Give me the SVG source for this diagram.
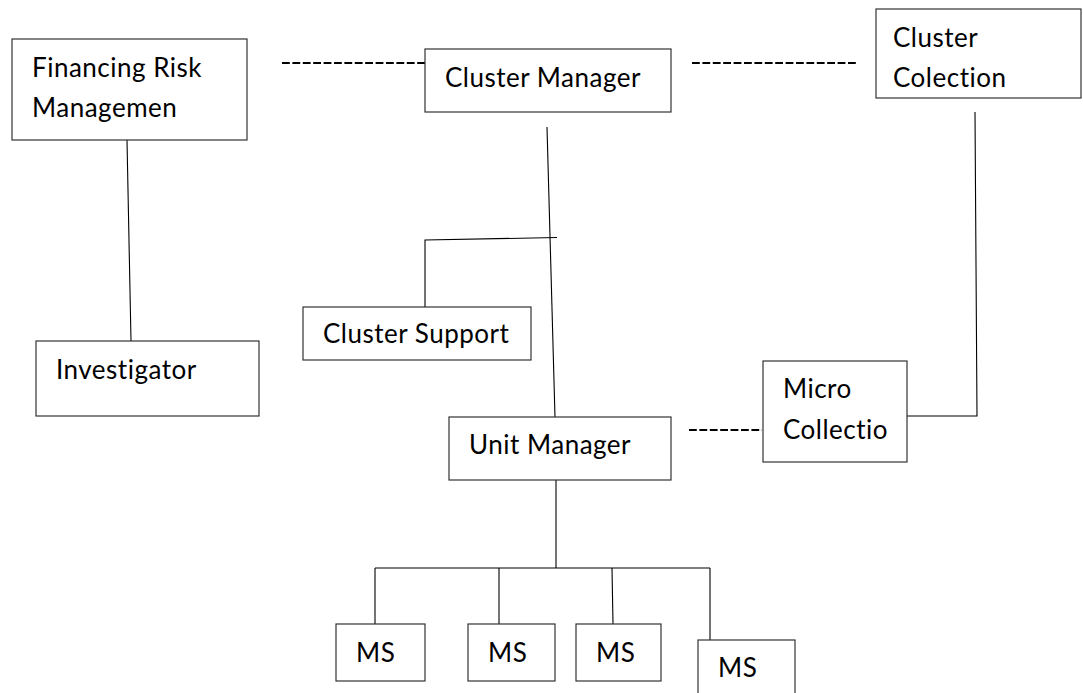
<svg xmlns="http://www.w3.org/2000/svg" width="1083" height="693" viewBox="0 0 1083 693">
<style>
.box{fill:#fff;stroke:#333;stroke-width:1.2}
.t{font-family:Lato,"Liberation Sans",sans-serif;font-size:26px;letter-spacing:0.5px;fill:#000}
.ln{stroke:#000;stroke-width:1.1;fill:none}
.dash{stroke:#000;stroke-width:2.2;fill:none;stroke-dasharray:7.8 2.6}
</style>
<rect width="1083" height="693" fill="#fff"/>
<g id="connectors">
<line class="dash" x1="282" y1="63" x2="425" y2="63"/>
<line class="dash" x1="692" y1="63" x2="858" y2="63"/>
<line class="dash" x1="689" y1="430" x2="762" y2="430"/>
<line class="ln" x1="127" y1="140" x2="131" y2="341"/>
<line class="ln" x1="547" y1="127" x2="555" y2="417"/>
<polyline class="ln" points="425,307 425,240 557,237.5"/>
<polyline class="ln" points="907,416 977,416 975,112"/>
<line class="ln" x1="556" y1="480" x2="556" y2="568"/>
<line class="ln" x1="375" y1="568" x2="710" y2="568"/>
<line class="ln" x1="375" y1="568" x2="375" y2="624"/>
<line class="ln" x1="499" y1="568" x2="499" y2="624"/>
<line class="ln" x1="612" y1="568" x2="613" y2="624"/>
<line class="ln" x1="710" y1="568" x2="710" y2="640"/>
</g>
<g id="financing">
<rect class="box" x="12" y="39" width="235" height="101"/>
<text class="t" x="32" y="77">Financing Risk</text>
<text class="t" x="32" y="117">Managemen</text>
</g>
<g id="cluster-manager">
<rect class="box" x="425" y="49" width="246" height="63"/>
<text class="t" x="445" y="87">Cluster Manager</text>
</g>
<g id="cluster-colection">
<rect class="box" x="876" y="9" width="205" height="89"/>
<text class="t" x="893" y="47">Cluster</text>
<text class="t" x="893" y="87">Colection</text>
</g>
<g id="cluster-support">
<rect class="box" x="303" y="307" width="228" height="53"/>
<text class="t" x="323" y="343">Cluster Support</text>
</g>
<g id="investigator">
<rect class="box" x="36" y="341" width="223" height="75"/>
<text class="t" x="56" y="379">Investigator</text>
</g>
<g id="unit-manager">
<rect class="box" x="449" y="417" width="222" height="63"/>
<text class="t" x="469" y="454">Unit Manager</text>
</g>
<g id="micro-collectio">
<rect class="box" x="763" y="361" width="144" height="101"/>
<text class="t" x="783" y="398">Micro</text>
<text class="t" x="783" y="439">Collectio</text>
</g>
<g id="ms1">
<rect class="box" x="336" y="624" width="89" height="57"/>
<text class="t" x="356" y="662">MS</text>
</g>
<g id="ms2">
<rect class="box" x="468" y="624" width="87" height="57"/>
<text class="t" x="488" y="662">MS</text>
</g>
<g id="ms3">
<rect class="box" x="576" y="624" width="85" height="57"/>
<text class="t" x="596" y="662">MS</text>
</g>
<g id="ms4">
<rect class="box" x="698" y="640" width="97" height="70"/>
<text class="t" x="718" y="677">MS</text>
</g>
</svg>
